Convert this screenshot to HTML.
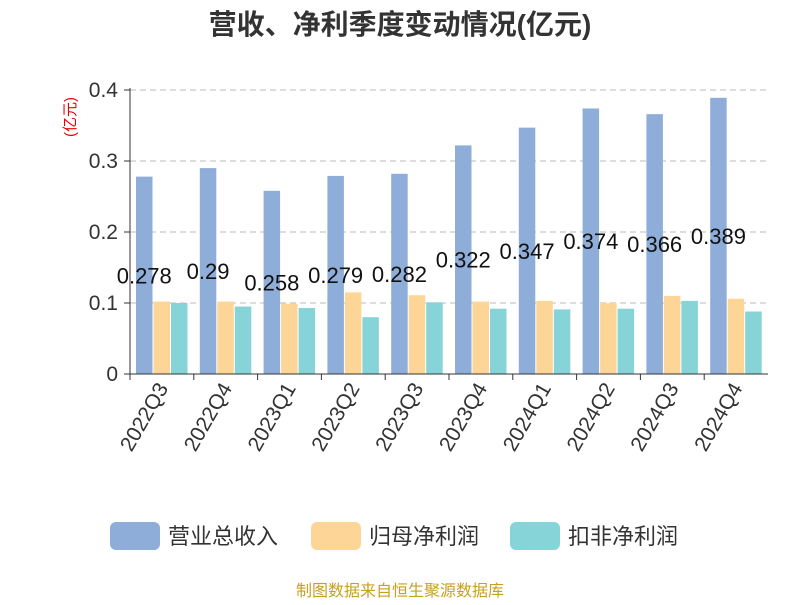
<!DOCTYPE html>
<html><head><meta charset="utf-8"><style>
body{margin:0;background:#fff}
text{font-family:"Liberation Sans","Noto Sans CJK SC",sans-serif}
</style></head><body>
<svg id="c" width="800" height="600" xmlns="http://www.w3.org/2000/svg">
<text x="400" y="34" text-anchor="middle" font-size="28" font-weight="bold" fill="#333">营收、净利季度变动情况(亿元)</text>
<text transform="translate(75,117) rotate(-90)" text-anchor="middle" font-size="15" fill="#e00">(亿元)</text>
<g id="grid"></g><g id="bars"></g><g id="axes"></g><g id="labels"></g>
<g>
<rect x="110" y="522" width="50" height="28" rx="6" fill="#8eadd9"/>
<text x="168" y="544" font-size="22" fill="#333">营业总收入</text>
<rect x="311" y="522" width="50" height="28" rx="6" fill="#fdd697"/>
<text x="369" y="544" font-size="22" fill="#333">归母净利润</text>
<rect x="510" y="522" width="50" height="28" rx="6" fill="#86d4d8"/>
<text x="568" y="544" font-size="22" fill="#333">扣非净利润</text>
</g>
<text x="400" y="596" text-anchor="middle" font-size="16" fill="#c8a020">制图数据来自恒生聚源数据库</text>
</svg>
<script>
const categories=["2022Q3","2022Q4","2023Q1","2023Q2","2023Q3","2023Q4","2024Q1","2024Q2","2024Q3","2024Q4"];
const revenue=[0.278,0.29,0.258,0.279,0.282,0.322,0.347,0.374,0.366,0.389];
const parentProfit=[0.102,0.102,0.099,0.115,0.111,0.102,0.103,0.100,0.110,0.106];
const deductedProfit=[0.100,0.095,0.093,0.080,0.101,0.092,0.091,0.092,0.103,0.088];
const yTicks=[0,0.1,0.2,0.3,0.4];
const NS="http://www.w3.org/2000/svg";
const X0=130,X1=768,Y0=374,Y1=90,YMAX=0.4;
const bw=(X1-X0)/categories.length;
const y=v=>Y0-(v/YMAX)*(Y0-Y1);
function mk(t,a,p){const e=document.createElementNS(NS,t);for(const k in a)e.setAttribute(k,a[k]);p.appendChild(e);return e;}
const grid=document.getElementById('grid'),bars=document.getElementById('bars'),axes=document.getElementById('axes'),labels=document.getElementById('labels');
yTicks.forEach(t=>{
 if(t>0){const l=mk('line',{x1:X0,x2:X1,y1:y(t),y2:y(t),stroke:'#bbb','stroke-dasharray':'6,4'},grid);
 
 }
 const tk=mk('line',{x1:X0-6,x2:X0,y1:y(t),y2:y(t),stroke:'#333'},axes);
 
 
 const tx=mk('text',{x:X0-12,y:y(t)+7,'text-anchor':'end','font-size':21,fill:'#333'},axes);
 tx.textContent=String(t);
 
 
});
const ya=mk('line',{x1:X0,x2:X0,y1:Y1-2,y2:Y0,stroke:'#333'},axes);


const xa=mk('line',{x1:X0,x2:X1,y1:Y0,y2:Y0,stroke:'#333'},axes);


const series=[[revenue,'#8eadd9','bar-revenue'],[parentProfit,'#fdd697','bar-parent-profit'],[deductedProfit,'#86d4d8','bar-deducted-profit']];
const w=16.5;
categories.forEach((c,i)=>{
 const cx=X0+bw*i;
 const tk=mk('line',{x1:cx,x2:cx,y1:Y0,y2:Y0+6,stroke:'#333'},axes);
 
 
 series.forEach((s,j)=>{
  const bx=cx+6+j*(w+1);
  const r=mk('rect',{x:bx,y:y(s[0][i]),width:w,height:Y0-y(s[0][i]),fill:s[1]},bars);
  
  
 });
 const lt=mk('text',{x:cx+6+w/2,y:(y(revenue[i])+Y0)/2+8,'text-anchor':'middle','font-size':22,fill:'#111'},labels);
 lt.textContent=String(revenue[i]);
 
 
 const mx=cx+bw/2;
 const xt=mk('text',{transform:`translate(${mx+7},${Y0+14}) rotate(-60)`,'text-anchor':'end','font-size':21,fill:'#333'},axes);
 xt.textContent=c;
 
 
});
</script>
</body></html>
